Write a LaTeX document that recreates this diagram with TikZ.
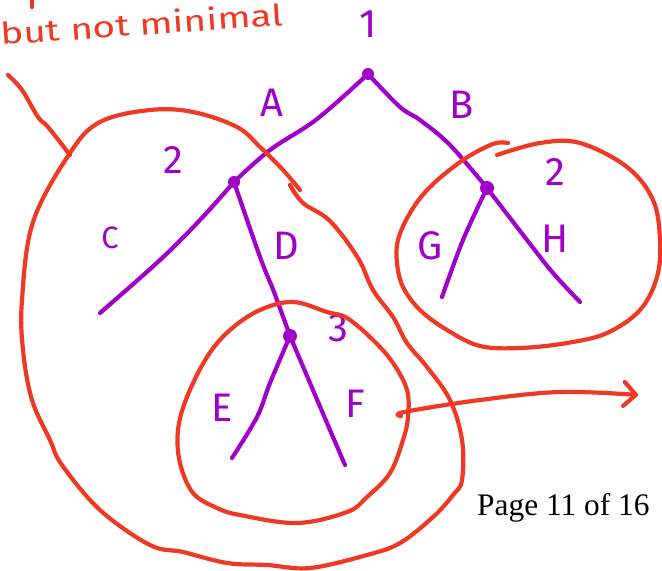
\documentclass[tikz,border=0pt]{standalone}
\usepackage{fontspec}
\setmainfont{Liberation Serif}
\newfontfamily\handfont{Fira Sans}
\usetikzlibrary{arrows.meta}

\definecolor{treepurple}{RGB}{160,0,200}
\definecolor{inkred}{RGB}{238,58,36}

\begin{document}
\begin{tikzpicture}[x=1bp, y=-1bp,
  edge/.style={draw=treepurple, line width=4.2bp, line cap=round, line join=round},
  blob/.style={draw=inkred, line width=4.2bp, line cap=round, line join=round},
  vertex/.style={circle, fill=treepurple, inner sep=0pt, minimum size=12bp},
  lbl/.style={text=treepurple, font=\handfont\fontsize{40}{40}\selectfont, inner sep=0pt},
  note/.style={text=inkred, font=\handfont\fontsize{30}{30}\selectfont, inner sep=0pt},
]
\useasboundingbox (0,0) rectangle (662,571);

% tree vertices
\node[vertex] (n1) at (368,74) {};
\node[vertex] (n2) at (234,182) {};
\node[vertex, minimum size=14bp] (n3) at (290,336) {};
\node[vertex, minimum size=14bp] (n4) at (487,188) {};
% leaf ends
\coordinate (lc) at (100,313);
\coordinate (le) at (232,458);
\coordinate (lf) at (345,465);
\coordinate (lg) at (442,297);
\coordinate (lh) at (580,302);

% tree edges
\draw[edge] plot[smooth, tension=0.6] coordinates {(n1.center) (317,119) (270,150) (n2.center)};
\draw[edge] plot[smooth, tension=0.6] coordinates {(n1.center) (400,107) (420,120) (450,145) (n4.center)};
\draw[edge] plot[smooth, tension=0.6] coordinates {(n2.center) (200,220) (160,260) (lc)};
\draw[edge] plot[smooth, tension=0.6] coordinates {(n2.center) (260,257) (274,292) (n3.center)};
\draw[edge] plot[smooth, tension=0.6] coordinates {(n3.center) (270,383) (257,417) (le)};
\draw[edge] plot[smooth, tension=0.6] coordinates {(n3.center) (313,390) (327,423) (lf)};
\draw[edge] plot[smooth, tension=0.6] coordinates {(n4.center) (463,240) (lg)};
\draw[edge] plot[smooth, tension=0.6] coordinates {(n4.center) (527,240) (553,273) (lh)};

% edge and vertex labels
\node[lbl] (t1) at (368,24) {1};
\node[lbl] (tA) at (272,103) {A};
\node[lbl] (tB) at (462,105) {B};
\node[lbl] (t2a) at (173,160) {2};
\node[lbl] (t2b) at (555,172) {2};
\node[lbl, font=\handfont\fontsize{31}{31}\selectfont] (tC) at (110,238) {C};
\node[lbl] (tD) at (286,246) {D};
\node[lbl] (t3) at (338,328) {3};
\node[lbl] (tE) at (222,408) {E};
\node[lbl] (tF) at (355,404) {F};
\node[lbl] (tG) at (430,246) {G};
\node[lbl] (tH) at (555,239) {H};

% pointer stroke into the large region
\draw[blob] plot[smooth, tension=0.6] coordinates {(8,75) (22,90) (38,117) (48,127) (70,155)};
% large region (open where it meets edge D)
\draw[blob] plot[smooth, tension=0.6] coordinates {
  (290,185) (303,203) (330,221) (358,258) (373,290) (393,317) (407,343)
  (427,367) (450,400) (462,440) (462,480) (453,495) (433,517) (400,543)
  (367,555) (310,568) (267,565) (227,563) (183,552) (150,545) (100,510)
  (62,465) (50,440) (32,400) (23,350) (22,300) (33,222) (70,153)
  (100,122) (150,110) (193,112) (237,127) (260,147) (283,170) (300,190)};
% region around vertex 3
\draw[blob] plot[smooth cycle, tension=0.6] coordinates {
  (293,302) (327,312) (347,318) (373,340) (393,363) (407,390) (408,417)
  (403,440) (390,473) (367,497) (347,512) (297,523) (240,515) (217,508)
  (193,493) (180,463) (178,430) (187,397) (207,357) (230,330) (260,310)};
% region around the right vertex
\draw[blob] plot[smooth, tension=0.6] coordinates {
  (508,143) (493,144) (463,160) (430,187) (410,213) (398,240) (397,263)
  (403,287) (420,310) (447,330) (480,346) (520,348) (567,343) (607,333)
  (640,310) (657,277) (660,240) (653,200) (627,167) (580,143) (540,143) (497,155)};
% outgoing arrow
\coordinate (arrowend) at (638,395);
\draw[blob, -{Straight Barb[length=12bp, width=24bp, line cap=round, line join=round]}]
  plot[smooth, tension=0.6] coordinates {(401,416) (404,412) (480,400) (560,392) (arrowend)};

% margin note
\draw[blob] (32,0) -- (32,7);
\node[note, anchor=base west, rotate=4] (remark) at (1,45) {\scalebox{1.3}[1]{but not minimal}};

% page footer
\node[anchor=base west, inner sep=0pt, font=\fontsize{31.5}{31.5}\selectfont] (footer) at (477,515) {Page 11 of 16};
\end{tikzpicture}
\end{document}
